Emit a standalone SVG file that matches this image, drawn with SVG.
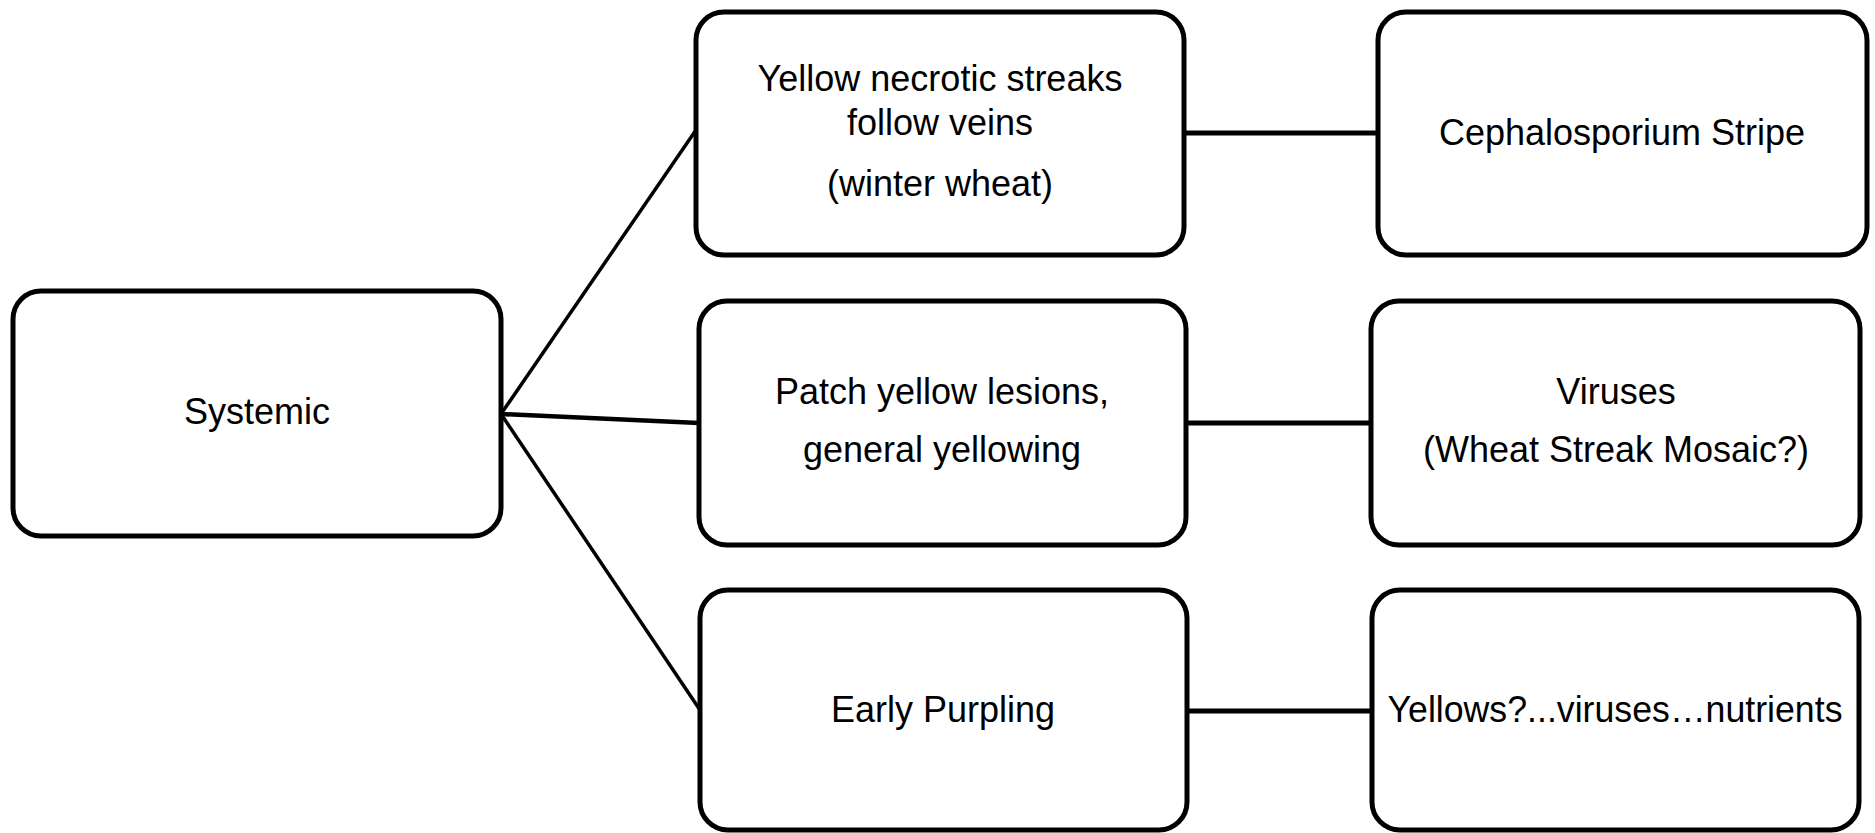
<svg xmlns="http://www.w3.org/2000/svg" width="1875" height="833" viewBox="0 0 1875 833">
<style>
.box{fill:#fff;stroke:#000;stroke-width:5}
.t{font-family:"Liberation Sans",Arial,sans-serif;font-size:36px;fill:#000;text-anchor:middle}
.c{stroke:#000;fill:none}
</style>
<rect width="1875" height="833" fill="#fff"/>
<g id="connectors">
<line class="c" stroke-width="3.5" x1="501" y1="414" x2="696" y2="130"/>
<line class="c" stroke-width="4.5" x1="501" y1="414" x2="699" y2="423"/>
<line class="c" stroke-width="3.5" x1="501" y1="414" x2="700" y2="710"/>
<line class="c" stroke-width="5" x1="1184" y1="133" x2="1378" y2="133"/>
<line class="c" stroke-width="5" x1="1186" y1="423" x2="1371" y2="423"/>
<line class="c" stroke-width="5" x1="1187" y1="711" x2="1372" y2="711"/>
</g>
<g id="systemic">
<rect class="box" x="13" y="291" width="488" height="245" rx="28"/>
<text class="t" x="257" y="424">Systemic</text>
</g>
<g id="yellow-necrotic">
<rect class="box" x="696" y="12" width="488" height="243" rx="28"/>
<text class="t" x="940" y="91">Yellow necrotic streaks</text>
<text class="t" x="940" y="135">follow veins</text>
<text class="t" x="940" y="196">(winter wheat)</text>
</g>
<g id="cephalosporium">
<rect class="box" x="1378" y="12" width="489" height="243" rx="28"/>
<text class="t" x="1622" y="145">Cephalosporium Stripe</text>
</g>
<g id="patch-yellow">
<rect class="box" x="699" y="301" width="487" height="244" rx="28"/>
<text class="t" x="942" y="404">Patch yellow lesions,</text>
<text class="t" x="942" y="462">general yellowing</text>
</g>
<g id="viruses">
<rect class="box" x="1371" y="301" width="489" height="244" rx="28"/>
<text class="t" x="1616" y="404">Viruses</text>
<text class="t" x="1616" y="462">(Wheat Streak Mosaic?)</text>
</g>
<g id="early-purpling">
<rect class="box" x="700" y="590" width="487" height="240" rx="28"/>
<text class="t" x="943" y="722">Early Purpling</text>
</g>
<g id="yellows">
<rect class="box" x="1372" y="590" width="487" height="240" rx="28"/>
<text class="t" x="1615" y="722" textLength="455" lengthAdjust="spacingAndGlyphs">Yellows?...viruses…nutrients</text>
</g>
</svg>
